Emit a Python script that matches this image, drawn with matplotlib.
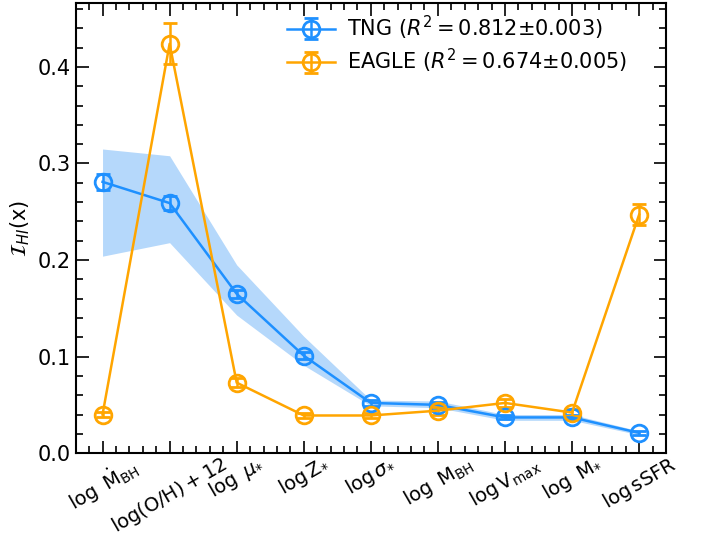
import numpy as np
import matplotlib
matplotlib.use("Agg")
import matplotlib.pyplot as plt
from matplotlib.ticker import MultipleLocator

# feature labels along the x axis
features = [r"$\log\ \dot{\mathrm{M}}_{\mathrm{BH}}$",
            r"$\log(\mathrm{O/H})+12$",
            r"$\log\ \mu_{*}$",
            r"$\log \mathrm{Z}_{*}$",
            r"$\log \sigma_{*}$",
            r"$\log\ \mathrm{M}_{\mathrm{BH}}$",
            r"$\log \mathrm{V}_{\mathrm{max}}$",
            r"$\log\ \mathrm{M}_{*}$",
            r"$\log \mathrm{sSFR}$"]

# TNG importance, errors and spread band
tng_val = [0.281, 0.259, 0.165, 0.101, 0.052, 0.050, 0.037, 0.037, 0.021]
tng_err = [0.008, 0.007, 0.004, 0.004, 0.003, 0.003, 0.002, 0.002, 0.002]
tng_lo = [0.204, 0.218, 0.143, 0.091, 0.049, 0.047, 0.034, 0.034, 0.019]
tng_hi = [0.315, 0.308, 0.195, 0.121, 0.055, 0.054, 0.040, 0.040, 0.023]

# EAGLE importance and errors
eagle_val = [0.040, 0.424, 0.073, 0.039, 0.039, 0.044, 0.052, 0.042, 0.247]
eagle_err = [0.003, 0.021, 0.005, 0.003, 0.003, 0.004, 0.004, 0.004, 0.011]

tng_label = r"TNG ($R^2=0.812{\pm}0.003$)"
eagle_label = r"EAGLE ($R^2=0.674{\pm}0.005$)"

c_tng = "#1e90ff"
c_eagle = "#ffa500"

fig = plt.figure(figsize=(7.01, 5.35), dpi=100)
ax = fig.add_axes([0.108, 0.153, 0.842, 0.841])

x = np.arange(len(features))
ax.fill_between(x, tng_lo, tng_hi, color="#b5d8fb", lw=0, zorder=1)
style = dict(marker="o", ms=12, mfc="none", mew=2, lw=1.8,
             capsize=5, capthick=2, zorder=3)
ax.errorbar(x, tng_val, yerr=tng_err, color=c_tng, label=tng_label, **style)
ax.errorbar(x, eagle_val, yerr=eagle_err, color=c_eagle, label=eagle_label,
            **style)

ax.set_xlim(-0.4, 8.4)
ax.set_ylim(0, 0.466)
ax.set_xticks(x)
ax.set_xticklabels(features, rotation=30)
ax.xaxis.set_minor_locator(MultipleLocator(0.2))
ax.yaxis.set_major_locator(MultipleLocator(0.1))
ax.yaxis.set_minor_locator(MultipleLocator(0.02))
ax.tick_params(which="both", direction="in", top=True, right=True,
               labelsize=15, width=1.2)
ax.tick_params(axis="x", which="both", labelsize=14)
ax.tick_params(which="major", length=9)
ax.tick_params(which="minor", length=5)
ax.tick_params(axis="x", which="major", pad=0)
for s in ax.spines.values():
    s.set_linewidth(1.5)

ax.set_ylabel(r"$\mathcal{I}_{HI}(\mathrm{x})$", fontsize=15, labelpad=4)
ax.legend(loc="upper left", bbox_to_anchor=(0.34, 1.0), frameon=False,
          fontsize=15, handlelength=2.3, handletextpad=0.6,
          borderaxespad=0.1, labelspacing=0.25)

fig.savefig("out.png", dpi=100)
